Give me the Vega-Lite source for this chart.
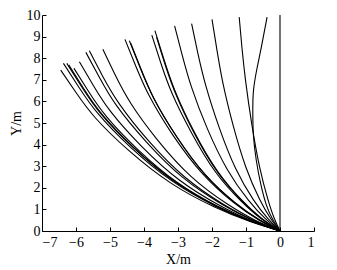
{
  "$schema": "https://vega.github.io/schema/vega-lite/v6.json",
  "width": 272,
  "height": 216,
  "autosize": "none",
  "padding": {"left": 42, "top": 15, "right": 23, "bottom": 39},
  "background": "white",
  "config": {
    "view": {"stroke": null},
    "axis": {
      "domainColor": "black", "tickColor": "black", "labelColor": "black", "titleColor": "black",
      "labelFont": "Liberation Serif", "titleFont": "Liberation Serif",
      "labelFontSize": 14, "titleFontSize": 14, "titleFontWeight": "normal",
      "grid": false, "tickSize": -4, "domainWidth": 1, "tickWidth": 1
    }
  },
  "data": {"values": [
    {"c":1,"x":0,"y":0},{"c":1,"x":-0.90,"y":0.45},{"c":1,"x":-1.94,"y":1.12},{"c":1,"x":-3.23,"y":2.24},{"c":1,"x":-4.45,"y":3.73},{"c":1,"x":-5.42,"y":5.22},{"c":1,"x":-6.00,"y":6.41},{"c":1,"x":-6.45,"y":7.45},
    {"c":2,"x":0,"y":0},{"c":2,"x":-0.89,"y":0.47},{"c":2,"x":-1.91,"y":1.16},{"c":2,"x":-3.19,"y":2.33},{"c":2,"x":-4.40,"y":3.88},{"c":2,"x":-5.35,"y":5.43},{"c":2,"x":-5.92,"y":6.67},{"c":2,"x":-6.37,"y":7.76},
    {"c":3,"x":0,"y":0},{"c":3,"x":-0.88,"y":0.47},{"c":3,"x":-1.88,"y":1.16},{"c":3,"x":-3.14,"y":2.33},{"c":3,"x":-4.33,"y":3.88},{"c":3,"x":-5.27,"y":5.43},{"c":3,"x":-5.83,"y":6.67},{"c":3,"x":-6.27,"y":7.76},
    {"c":4,"x":0,"y":0},{"c":4,"x":-0.87,"y":0.46},{"c":4,"x":-1.86,"y":1.15},{"c":4,"x":-3.11,"y":2.31},{"c":4,"x":-4.29,"y":3.85},{"c":4,"x":-5.22,"y":5.38},{"c":4,"x":-5.78,"y":6.61},{"c":4,"x":-6.21,"y":7.69},
    {"c":5,"x":0,"y":0},{"c":5,"x":-0.85,"y":0.45},{"c":5,"x":-1.82,"y":1.13},{"c":5,"x":-3.03,"y":2.26},{"c":5,"x":-4.18,"y":3.77},{"c":5,"x":-5.09,"y":5.27},{"c":5,"x":-5.64,"y":6.48},{"c":5,"x":-6.06,"y":7.53},
    {"c":6,"x":0,"y":0},{"c":6,"x":-0.83,"y":0.47},{"c":6,"x":-1.77,"y":1.18},{"c":6,"x":-2.95,"y":2.35},{"c":6,"x":-4.07,"y":3.92},{"c":6,"x":-4.96,"y":5.49},{"c":6,"x":-5.49,"y":6.74},{"c":6,"x":-5.90,"y":7.84},
    {"c":7,"x":0,"y":0},{"c":7,"x":-0.80,"y":0.50},{"c":7,"x":-1.71,"y":1.24},{"c":7,"x":-2.86,"y":2.48},{"c":7,"x":-3.94,"y":4.14},{"c":7,"x":-4.80,"y":5.79},{"c":7,"x":-5.31,"y":7.11},{"c":7,"x":-5.71,"y":8.27},
    {"c":8,"x":0,"y":0},{"c":8,"x":-0.79,"y":0.50},{"c":8,"x":-1.68,"y":1.25},{"c":8,"x":-2.81,"y":2.51},{"c":8,"x":-3.87,"y":4.18},{"c":8,"x":-4.71,"y":5.85},{"c":8,"x":-5.22,"y":7.18},{"c":8,"x":-5.61,"y":8.35},
    {"c":9,"x":0,"y":0},{"c":9,"x":-0.73,"y":0.50},{"c":9,"x":-1.56,"y":1.26},{"c":9,"x":-2.61,"y":2.52},{"c":9,"x":-3.60,"y":4.21},{"c":9,"x":-4.38,"y":5.89},{"c":9,"x":-4.85,"y":7.23},{"c":9,"x":-5.21,"y":8.41},
    {"c":10,"x":0,"y":0},{"c":10,"x":-0.64,"y":0.53},{"c":10,"x":-1.37,"y":1.33},{"c":10,"x":-2.28,"y":2.66},{"c":10,"x":-3.15,"y":4.44},{"c":10,"x":-3.83,"y":6.21},{"c":10,"x":-4.24,"y":7.63},{"c":10,"x":-4.56,"y":8.87},
    {"c":11,"x":0,"y":0},{"c":11,"x":-0.62,"y":0.53},{"c":11,"x":-1.33,"y":1.32},{"c":11,"x":-2.22,"y":2.64},{"c":11,"x":-3.06,"y":4.41},{"c":11,"x":-3.72,"y":6.17},{"c":11,"x":-4.12,"y":7.58},{"c":11,"x":-4.43,"y":8.81},
    {"c":12,"x":0,"y":0},{"c":12,"x":-0.62,"y":0.52},{"c":12,"x":-1.32,"y":1.30},{"c":12,"x":-2.20,"y":2.61},{"c":12,"x":-3.03,"y":4.35},{"c":12,"x":-3.69,"y":6.08},{"c":12,"x":-4.08,"y":7.47},{"c":12,"x":-4.39,"y":8.69},
    {"c":13,"x":0,"y":0},{"c":13,"x":-0.53,"y":0.54},{"c":13,"x":-1.13,"y":1.36},{"c":13,"x":-1.89,"y":2.72},{"c":13,"x":-2.60,"y":4.54},{"c":13,"x":-3.17,"y":6.35},{"c":13,"x":-3.51,"y":7.80},{"c":13,"x":-3.77,"y":9.07},
    {"c":14,"x":0,"y":0},{"c":14,"x":-0.52,"y":0.56},{"c":14,"x":-1.10,"y":1.39},{"c":14,"x":-1.84,"y":2.78},{"c":14,"x":-2.54,"y":4.64},{"c":14,"x":-3.09,"y":6.50},{"c":14,"x":-3.42,"y":7.98},{"c":14,"x":-3.68,"y":9.28},
    {"c":15,"x":0,"y":0},{"c":15,"x":-0.51,"y":0.54},{"c":15,"x":-1.09,"y":1.35},{"c":15,"x":-1.82,"y":2.69},{"c":15,"x":-2.51,"y":4.49},{"c":15,"x":-3.05,"y":6.28},{"c":15,"x":-3.38,"y":7.71},{"c":15,"x":-3.63,"y":8.97},
    {"c":16,"x":0,"y":0},{"c":16,"x":-0.43,"y":0.57},{"c":16,"x":-0.93,"y":1.43},{"c":16,"x":-1.55,"y":2.85},{"c":16,"x":-2.14,"y":4.75},{"c":16,"x":-2.60,"y":6.65},{"c":16,"x":-2.88,"y":8.17},{"c":16,"x":-3.10,"y":9.50},
    {"c":17,"x":0,"y":0},{"c":17,"x":-0.36,"y":0.58},{"c":17,"x":-0.78,"y":1.44},{"c":17,"x":-1.30,"y":2.88},{"c":17,"x":-1.79,"y":4.80},{"c":17,"x":-2.18,"y":6.72},{"c":17,"x":-2.42,"y":8.26},{"c":17,"x":-2.60,"y":9.60},
    {"c":18,"x":0,"y":0},{"c":18,"x":-0.28,"y":0.59},{"c":18,"x":-0.60,"y":1.47},{"c":18,"x":-1.00,"y":2.94},{"c":18,"x":-1.38,"y":4.90},{"c":18,"x":-1.68,"y":6.86},{"c":18,"x":-1.86,"y":8.43},{"c":18,"x":-2.00,"y":9.80},
    {"c":19,"x":0,"y":0},{"c":19,"x":-0.17,"y":0.59},{"c":19,"x":-0.36,"y":1.49},{"c":19,"x":-0.60,"y":2.97},{"c":19,"x":-0.83,"y":4.95},{"c":19,"x":-1.01,"y":6.93},{"c":19,"x":-1.12,"y":8.51},{"c":19,"x":-1.20,"y":9.90},
    {"c":20,"x":0,"y":0},{"c":20,"x":-0.20,"y":0.50},{"c":20,"x":-0.40,"y":1.20},{"c":20,"x":-0.57,"y":2.20},{"c":20,"x":-0.70,"y":3.30},{"c":20,"x":-0.78,"y":4.40},{"c":20,"x":-0.80,"y":5.50},{"c":20,"x":-0.78,"y":6.50},{"c":20,"x":-0.68,"y":7.50},{"c":20,"x":-0.55,"y":8.50},{"c":20,"x":-0.38,"y":9.90},
    {"c":21,"x":0,"y":0},{"c":21,"x":0,"y":10}
  ]},
  "mark": {"type": "line", "interpolate": "natural", "color": "black", "strokeWidth": 1.1},
  "encoding": {
    "x": {"field": "x", "type": "quantitative", "scale": {"domain": [-7, 1], "nice": false},
      "axis": {"values": [-7,-6,-5,-4,-3,-2,-1,0,1], "title": "X/m", "labelPadding": 8, "titlePadding": 3}},
    "y": {"field": "y", "type": "quantitative", "scale": {"domain": [0, 10], "nice": false},
      "axis": {"values": [0,1,2,3,4,5,6,7,8,9,10], "title": "Y/m", "labelPadding": 6, "titlePadding": 3}},
    "detail": {"field": "c", "type": "nominal"},
    "order": {"field": "y", "type": "quantitative"}
  }
}
